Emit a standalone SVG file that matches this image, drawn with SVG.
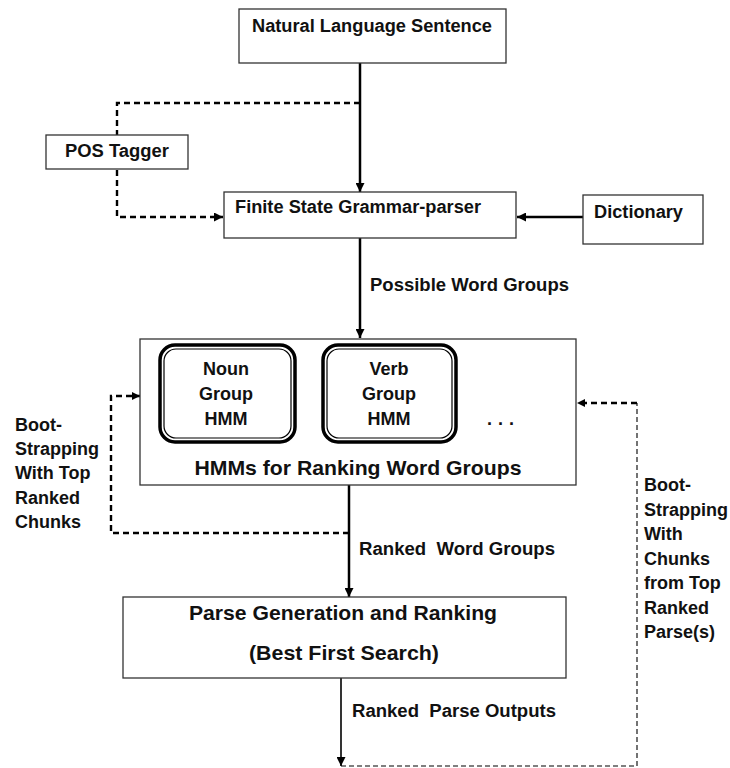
<svg xmlns="http://www.w3.org/2000/svg" width="730" height="768" viewBox="0 0 730 768">
  <defs>
    <marker id="ah" viewBox="0 0 10 10" refX="10" refY="5" markerWidth="9" markerHeight="9" markerUnits="userSpaceOnUse" orient="auto">
      <path d="M0,0 L10,5 L0,10 z" fill="#000"/>
    </marker>
    <marker id="ahs" viewBox="0 0 10 10" refX="10" refY="5" markerWidth="8" markerHeight="8" markerUnits="userSpaceOnUse" orient="auto">
      <path d="M0,0 L10,5 L0,10 z" fill="#000"/>
    </marker>
  </defs>
  <style>
    .box { fill: #fff; stroke: #333; stroke-width: 1.3; }
    .outer { fill: #fff; stroke: #000; stroke-width: 3.5; }
    .inner { fill: none; stroke: #000; stroke-width: 1.2; }
    text { font-family: "Liberation Sans", Arial, sans-serif; font-weight: bold; fill: #111; font-size: 18px; }
    .big { font-size: 21px; }
    .mid { text-anchor: middle; }
    .solid { fill: none; stroke: #000; stroke-width: 2.5; }
    .thin { fill: none; stroke: #000; stroke-width: 1.6; }
    .dash { fill: none; stroke: #000; stroke-width: 2.4; stroke-dasharray: 6 4; }
    .dashthin { fill: none; stroke: #000; stroke-width: 1.1; stroke-dasharray: 5 3; }
  </style>
  <rect width="730" height="768" fill="#fff"/>

  <g id="connectors">
    <line class="solid" x1="360" y1="63" x2="360" y2="192" marker-end="url(#ah)"/>
    <path class="dash" d="M360,103 H117 V217 H223" marker-end="url(#ah)"/>
    <line class="solid" x1="583" y1="217" x2="517" y2="217" marker-end="url(#ah)"/>
    <line class="solid" x1="360" y1="238" x2="360" y2="338" marker-end="url(#ah)"/>
    <line class="solid" x1="349" y1="485" x2="349" y2="597" marker-end="url(#ah)"/>
    <path class="dash" d="M349,533 H111 V396 H140" marker-end="url(#ahs)"/>
    <line class="thin" x1="341" y1="678" x2="341" y2="766" marker-end="url(#ah)"/>
    <path class="dashthin" d="M341,766 H637 V403"/>
    <path class="dash" d="M637,403 H577" stroke-width="1.6" marker-end="url(#ahs)"/>
  </g>

  <g id="nls">
    <rect class="box" x="239" y="9" width="267" height="54"/>
    <text x="252" y="32" textLength="240" lengthAdjust="spacingAndGlyphs">Natural Language Sentence</text>
  </g>

  <g id="pos">
    <rect class="box" x="46" y="135" width="142" height="34"/>
    <text x="65" y="157" textLength="104" lengthAdjust="spacingAndGlyphs">POS Tagger</text>
  </g>

  <g id="fsg">
    <rect class="box" x="224" y="192" width="292" height="46"/>
    <text x="235" y="213" textLength="246" lengthAdjust="spacingAndGlyphs">Finite State Grammar-parser</text>
  </g>

  <g id="dict">
    <rect class="box" x="583" y="195" width="120" height="49"/>
    <text x="594" y="218" textLength="89" lengthAdjust="spacingAndGlyphs">Dictionary</text>
  </g>

  <g id="label-possible">
    <text x="370" y="291" textLength="199" lengthAdjust="spacingAndGlyphs">Possible Word Groups</text>
  </g>

  <g id="hmms">
    <rect class="box" x="140" y="339" width="436" height="146"/>
    <text class="big mid" x="358" y="475" textLength="327" lengthAdjust="spacingAndGlyphs">HMMs for Ranking Word Groups</text>
    <text x="487" y="425" font-size="26" letter-spacing="6">...</text>
  </g>

  <g id="noun">
    <rect class="outer" x="160" y="345" width="135" height="97" rx="15"/>
    <rect class="inner" x="164" y="349" width="127" height="89" rx="12"/>
    <text class="mid" x="226" y="375">Noun</text>
    <text class="mid" x="226" y="400">Group</text>
    <text class="mid" x="226" y="425">HMM</text>
  </g>

  <g id="verb">
    <rect class="outer" x="323" y="345" width="133" height="97" rx="15"/>
    <rect class="inner" x="327" y="349" width="125" height="89" rx="12"/>
    <text class="mid" x="389" y="375">Verb</text>
    <text class="mid" x="389" y="400">Group</text>
    <text class="mid" x="389" y="425">HMM</text>
  </g>

  <g id="label-left">
    <text x="15" y="431">Boot-</text>
    <text x="15" y="455">Strapping</text>
    <text x="15" y="479">With Top</text>
    <text x="15" y="504">Ranked</text>
    <text x="15" y="528">Chunks</text>
  </g>

  <g id="label-ranked-wg">
    <text x="359" y="555" textLength="196" lengthAdjust="spacingAndGlyphs" xml:space="preserve">Ranked  Word Groups</text>
  </g>

  <g id="parse">
    <rect class="box" x="123" y="597" width="443" height="81"/>
    <text class="big mid" x="343" y="620" textLength="308" lengthAdjust="spacingAndGlyphs">Parse Generation and Ranking</text>
    <text class="big mid" x="344" y="660" textLength="190" lengthAdjust="spacingAndGlyphs">(Best First Search)</text>
  </g>

  <g id="label-ranked-po">
    <text x="352" y="717" textLength="204" lengthAdjust="spacingAndGlyphs" xml:space="preserve">Ranked  Parse Outputs</text>
  </g>

  <g id="label-right">
    <text x="644" y="491">Boot-</text>
    <text x="644" y="516">Strapping</text>
    <text x="644" y="540">With</text>
    <text x="644" y="565">Chunks</text>
    <text x="644" y="589">from Top</text>
    <text x="644" y="614">Ranked</text>
    <text x="644" y="638">Parse(s)</text>
  </g>
</svg>
